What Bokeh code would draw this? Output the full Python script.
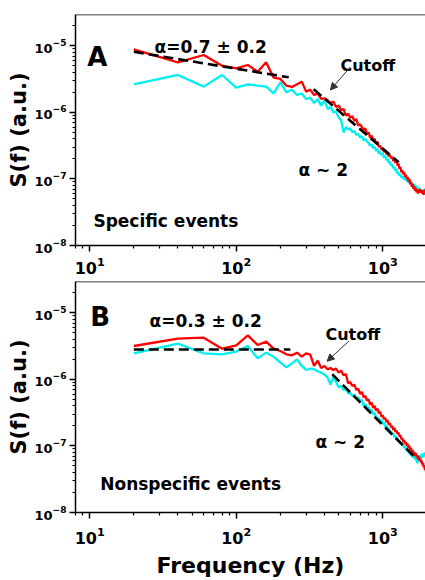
from bokeh.plotting import figure
from bokeh.models import FixedTicker, Label, Arrow, NormalHead, Range1d, Span
from bokeh.layouts import column
from bokeh.embed import file_html
from bokeh.resources import INLINE

# ---------------- data ----------------
freq_hz = list(range(20, 2001, 20))

# log10 S(f) (panel A, specific events)
log_s_red_a = [
    -5.055, -5.25, -5.14, -5.30, -5.34, -5.29, -5.39, -5.25, -5.48, -5.50,
    -5.60, -5.62, -5.58, -5.54, -5.69, -5.66, -5.74, -5.72, -5.80, -5.79,
    -5.82, -5.86, -5.84, -5.92, -5.90, -5.97, -5.95, -6.05, -6.02, -6.08,
    -6.06, -6.13, -6.10, -6.20, -6.18, -6.22, -6.27, -6.24, -6.33, -6.30,
    -6.38, -6.35, -6.42, -6.40, -6.47, -6.44, -6.52, -6.50, -6.56, -6.54,
    -6.60, -6.57, -6.63, -6.61, -6.66, -6.64, -6.69, -6.67, -6.73, -6.70,
    -6.76, -6.72, -6.80, -6.77, -6.85, -6.82, -6.90, -6.87, -6.93, -6.90,
    -6.97, -6.94, -7.00, -6.97, -7.04, -7.00, -7.08, -7.05, -7.12, -7.08,
    -7.15, -7.11, -7.18, -7.14, -7.20, -7.16, -7.22, -7.17, -7.20, -7.15,
    -7.21, -7.17, -7.22, -7.18, -7.24, -7.17, -7.21, -7.16, -7.19, -7.15,
]
log_s_cyan_a = [
    -5.58, -5.44, -5.615, -5.44, -5.63, -5.58, -5.60, -5.615, -5.715, -5.55,
    -5.70, -5.66, -5.74, -5.72, -5.80, -5.78, -5.86, -5.80, -5.90, -5.82,
    -5.95, -5.92, -6.00, -5.99, -6.08, -6.12, -6.30, -6.22, -6.26, -6.24,
    -6.30, -6.28, -6.34, -6.32, -6.38, -6.36, -6.42, -6.40, -6.44, -6.46,
    -6.50, -6.48, -6.54, -6.52, -6.58, -6.55, -6.62, -6.59, -6.64, -6.62,
    -6.68, -6.65, -6.72, -6.70, -6.76, -6.74, -6.80, -6.78, -6.84, -6.82,
    -6.88, -6.85, -6.92, -6.90, -6.95, -6.93, -6.98, -6.96, -7.00, -6.97,
    -7.02, -6.99, -7.04, -7.01, -7.06, -7.03, -7.07, -7.04, -7.09, -7.06,
    -7.11, -7.08, -7.13, -7.10, -7.15, -7.12, -7.17, -7.13, -7.19, -7.15,
    -7.20, -7.16, -7.21, -7.17, -7.22, -7.15, -7.20, -7.14, -7.18, -7.12,
]
# panel B, nonspecific events
log_s_red_b = [
    -5.50, -5.39, -5.375, -5.54, -5.49, -5.34, -5.485, -5.435, -5.54, -5.575,
    -5.625, -5.64, -5.60, -5.66, -5.61, -5.63, -5.80, -5.72, -5.83, -5.80,
    -5.85, -5.83, -5.86, -5.84, -5.90, -5.87, -5.94, -5.92, -6.06, -6.04,
    -6.10, -6.08, -6.16, -6.14, -6.22, -6.19, -6.27, -6.25, -6.32, -6.30,
    -6.38, -6.35, -6.43, -6.40, -6.47, -6.44, -6.51, -6.49, -6.56, -6.54,
    -6.60, -6.58, -6.64, -6.62, -6.68, -6.66, -6.72, -6.70, -6.76, -6.73,
    -6.79, -6.77, -6.82, -6.80, -6.86, -6.84, -6.90, -6.88, -6.94, -6.91,
    -6.97, -6.94, -7.00, -6.97, -7.03, -7.00, -7.06, -7.03, -7.09, -7.06,
    -7.12, -7.09, -7.15, -7.11, -7.17, -7.14, -7.20, -7.16, -7.22, -7.18,
    -7.25, -7.22, -7.28, -7.25, -7.32, -7.29, -7.36, -7.33, -7.42, -7.40,
]
log_s_cyan_b = [
    -5.61, -5.465, -5.61, -5.625, -5.585, -5.50, -5.685, -5.60, -5.66, -5.75,
    -5.82, -5.76, -5.70, -5.80, -5.86, -5.84, -5.85, -5.88, -5.90, -5.93,
    -5.97, -6.08, -5.96, -6.04, -6.12, -6.10, -6.16, -6.14, -6.21, -6.20,
    -6.25, -6.23, -6.29, -6.27, -6.33, -6.31, -6.40, -6.37, -6.44, -6.42,
    -6.48, -6.46, -6.53, -6.50, -6.57, -6.60, -6.58, -6.63, -6.61, -6.67,
    -6.65, -6.71, -6.69, -6.75, -6.73, -6.80, -6.78, -6.83, -6.81, -6.87,
    -6.85, -6.90, -6.88, -6.94, -6.92, -6.97, -6.95, -7.00, -6.98, -7.03,
    -7.01, -7.06, -7.04, -7.09, -7.07, -7.12, -7.10, -7.15, -7.12, -7.17,
    -7.14, -7.19, -7.16, -7.22, -7.19, -7.26, -7.22, -7.18, -7.14, -7.20,
    -7.13, -7.18, -7.12, -7.17, -7.11, -7.16, -7.10, -7.14, -7.09, -7.12,
]

# dashed fit lines (frequency, S)
fit_a_low_f = [20, 228]
fit_a_low_s = [8.1e-6, 3.35e-6]
fit_a_high_f = [338, 1285]
fit_a_high_s = [2.21e-6, 1.78e-7]
fit_b_low_f = [20, 234]
fit_b_low_s = [2.8e-6, 2.8e-6]
fit_b_high_f = [452, 1630]
fit_b_high_s = [1.19e-6, 7.0e-8]

x_major_ticks = [10, 100, 1000]
y_major_ticks = [1e-8, 1e-7, 1e-6, 1e-5]

FONT = "DejaVu Sans"
RED = "#ff0000"
CYAN = "#00f0f0"


def to_s(logs):
    return [10 ** v for v in logs]


x_minor = [8, 9] + [m * 10 ** e for e in (1, 2) for m in range(2, 10)]
y_minor = [m * 10 ** e for e in (-8, -7, -6, -5) for m in range(2, 10)]


def make_panel(red, cyan, fits, texts, arrow, with_xlabel, top_border, bottom_border, xlab_standoff):
    p = figure(
        x_axis_type="log", y_axis_type="log",
        x_range=Range1d(8, 1957), y_range=Range1d(1e-8, 2.94e-5),
        frame_width=350, frame_height=231,
        min_border_left=75, min_border_right=0,
        min_border_top=top_border, min_border_bottom=bottom_border,
        output_backend="svg", toolbar_location=None,
    )
    p.outline_line_color = None
    p.grid.visible = False
    p.background_fill_color = "white"
    p.border_fill_color = "white"

    for ax in (p.xaxis[0], p.yaxis[0]):
        ax.axis_line_width = 1.5
        ax.axis_line_color = "black"
        ax.major_tick_line_width = 1.5
        ax.minor_tick_line_width = 1.2
        ax.major_tick_out = 6
        ax.major_tick_in = 0
        ax.minor_tick_out = 3
        ax.minor_tick_in = 0
        ax.major_label_text_font = FONT
        ax.major_label_text_font_style = "bold"
        ax.major_label_text_color = "black"
        ax.axis_label_text_font = FONT
        ax.axis_label_text_font_style = "bold"
        ax.axis_label_text_color = "black"
    p.xaxis[0].ticker = FixedTicker(ticks=x_major_ticks, minor_ticks=x_minor)
    p.yaxis[0].ticker = FixedTicker(ticks=y_major_ticks, minor_ticks=y_minor)
    p.xaxis[0].major_label_text_font_size = "16px"
    p.yaxis[0].major_label_text_font_size = "13px"
    p.xaxis[0].major_label_standoff = xlab_standoff
    p.yaxis[0].major_label_standoff = 3
    p.yaxis[0].axis_label = "S(f) (a.u.)"
    p.yaxis[0].axis_label_standoff = 0
    p.yaxis[0].axis_label_text_font_size = "21px"
    if with_xlabel:
        p.xaxis[0].axis_label = "Frequency (Hz)"
        p.xaxis[0].axis_label_standoff = 6
        p.xaxis[0].axis_label_text_font_size = "22px"

    p.add_layout(Span(location=2.94e-5, dimension="width", line_color="black", line_width=1.5))

    p.line(freq_hz, to_s(cyan), line_color=CYAN, line_width=2.3)
    p.line(freq_hz, to_s(red), line_color=RED, line_width=2.3)
    for fx, fy in fits:
        p.line(fx, fy, line_color="black", line_width=2.6, line_dash="10 5")

    for txt, x, y, size in texts:
        p.add_layout(Label(x=x, y=y, text=txt, text_font=FONT, text_font_style="bold",
                           text_font_size=size, text_color="black",
                           text_align="left", text_baseline="alphabetic"))

    (xs, ys, xe, ye) = arrow
    p.add_layout(Arrow(end=NormalHead(size=7, line_color="#333333", fill_color="#333333", line_width=1),
                       x_start=xs, y_start=ys, x_end=xe, y_end=ye,
                       line_color="#333333", line_width=1))
    return p


pa = make_panel(
    log_s_red_a, log_s_cyan_a,
    [(fit_a_low_f, fit_a_low_s), (fit_a_high_f, fit_a_high_s)],
    [("A", 9.64, 6.76e-6, "26px"),
     ("α=0.7 ± 0.2", 27.7, 9.46e-6, "17px"),
     ("Cutoff", 514, 5.1e-6, "16px"),
     ("α ~ 2", 266, 1.36e-7, "17px"),
     ("Specific events", 10.6, 2.35e-8, "17px")],
    (603, 4.84e-6, 439, 2.16e-6),
    False, 14, 34, 5,
)

pb = make_panel(
    log_s_red_b, log_s_cyan_b,
    [(fit_b_low_f, fit_b_low_s), (fit_b_high_f, fit_b_high_s)],
    [("B", 10.1, 8.5e-6, "26px"),
     ("α=0.3 ± 0.2", 25.6, 7.4e-6, "17px"),
     ("Cutoff", 406, 4.72e-6, "16px"),
     ("α ~ 2", 347, 1.13e-7, "17px"),
     ("Nonspecific events", 11.8, 2.65e-8, "17px")],
    (588, 3.75e-6, 417, 1.87e-6),
    True, 2, 60, 8,
)

layout = column(pa, pb, spacing=0)
open("out.html", "w").write(file_html(layout, INLINE))
